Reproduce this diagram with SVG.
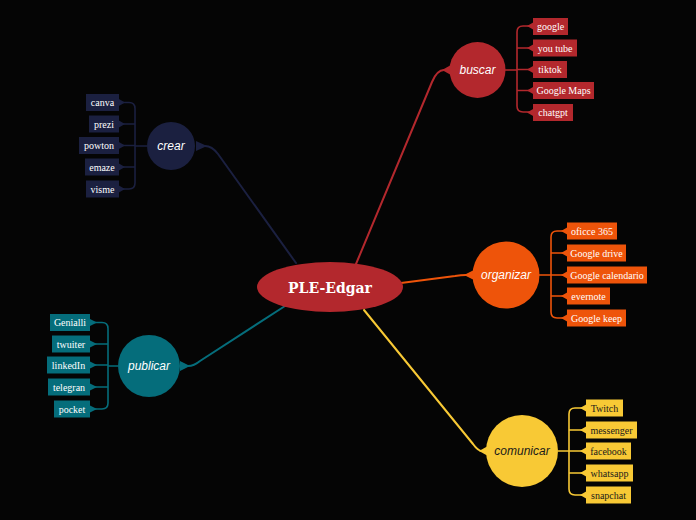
<svg xmlns="http://www.w3.org/2000/svg" width="696" height="520" viewBox="0 0 696 520">
<style>
.bg{fill:#050505}
.lbl{font-family:"Liberation Sans","DejaVu Sans",sans-serif;font-style:italic;font-size:12px;text-anchor:middle}
.leaf{font-family:"Liberation Serif","DejaVu Serif",serif;font-size:10px;text-anchor:middle}
.w{fill:#ffffff}
.d{fill:#1a1a1a}
.ln{fill:none;stroke-width:2;stroke-linecap:round;stroke-linejoin:round}
.br{fill:none;stroke-width:1.6;stroke-linejoin:round}
.red{fill:#B3282D}.redS{stroke:#B3282D}
.org{fill:#EE540A}.orgS{stroke:#EE540A}
.yel{fill:#F8C935}.yelS{stroke:#F8C935}
.nav{fill:#1B2040}.navS{stroke:#1B2040}
.tea{fill:#056D7B}.teaS{stroke:#056D7B}
</style>
<rect class="bg" x="0" y="0" width="696" height="520"/>

<g id="connectors">
  <!-- center to main nodes -->
  <path class="ln redS" d="M356,264 L432,82 Q437,70 444,70"/>
  <polygon class="red" points="442,70 451,65 451,75"/>
  <path class="ln navS" d="M296,263 L218,154 Q212,146 205,146"/>
  <polygon class="nav" points="207,146 196,141 196,151"/>
  <path class="ln orgS" d="M401,283 L455,276 Q461,275 466,275"/>
  <polygon class="org" points="464,275 474,270 474,280"/>
  <path class="ln yelS" d="M364,310 L473,444 Q478,451 482,451"/>
  <polygon class="yel" points="479,451 488,446 488,456"/>
  <path class="ln teaS" d="M285,306 L200,361 Q194,366 188,366"/>
  <polygon class="tea" points="190,366 180,361 180,371"/>

  <!-- buscar bracket -->
  <path class="br redS" d="M505,70 H517 M533,26 H523 Q517,26 517,32 V106 Q517,112 523,112 H533 M517,48 H533 M517,69.5 H533 M517,90.5 H533"/>
  <g class="red">
    <polygon points="527,26 534,22 534,30"/><polygon points="527,48 534,44 534,52"/><polygon points="527,69.5 534,65.5 534,73.5"/><polygon points="527,90.5 534,86.5 534,94.5"/><polygon points="527,112.5 534,108.5 534,116.5"/>
  </g>

  <!-- organizar bracket -->
  <path class="br orgS" d="M539,275 H551 M567,231 H557 Q551,231 551,237 V312 Q551,318 557,318 H567 M551,253 H567 M551,275 H567 M551,296 H567"/>
  <g class="org">
    <polygon points="561,231 568,227 568,235"/><polygon points="561,253 568,249 568,257"/><polygon points="561,275 568,271 568,279"/><polygon points="561,296 568,292 568,300"/><polygon points="561,318 568,314 568,322"/>
  </g>

  <!-- comunicar bracket -->
  <path class="br yelS" d="M558,451 H569 M586,408 H575 Q569,408 569,414 V489 Q569,495 575,495 H586 M569,430 H586 M569,451 H586 M569,473 H586"/>
  <g class="yel">
    <polygon points="580,408 587,404 587,412"/><polygon points="580,430 587,426 587,434"/><polygon points="580,451 587,447 587,455"/><polygon points="580,473 587,469 587,477"/><polygon points="580,495 587,491 587,499"/>
  </g>

  <!-- crear bracket -->
  <path class="br navS" d="M147,146 H135 M119,102.5 H129 Q135,102.5 135,108.5 V183 Q135,189 129,189 H119 M135,124 H119 M135,145.5 H119 M135,167 H119"/>
  <g class="nav">
    <polygon points="125,102.5 118,98.5 118,106.5"/><polygon points="125,124 118,120 118,128"/><polygon points="125,145.5 118,141.5 118,149.5"/><polygon points="125,167 118,163 118,171"/><polygon points="125,189 118,185 118,193"/>
  </g>

  <!-- publicar bracket -->
  <path class="br teaS" d="M118,366 H108 M90,322.5 H102 Q108,322.5 108,328.5 V403 Q108,409 102,409 H90 M108,344 H90 M108,365 H90 M108,387 H90"/>
  <g class="tea">
    <polygon points="97,322.5 89,318.5 89,326.5"/><polygon points="97,344 89,340 89,348"/><polygon points="97,365 89,361 89,369"/><polygon points="97,387 89,383 89,391"/><polygon points="97,409 89,405 89,413"/>
  </g>
</g>

<g id="center">
  <ellipse class="red" cx="330" cy="287" rx="73" ry="25"/>
  <text x="330" y="292.5" font-family="'DejaVu Serif',serif" font-weight="bold" font-size="14" text-anchor="middle" fill="#ffffff">PLE-Edgar</text>
</g>

<g id="buscar">
  <circle class="red" cx="477.5" cy="70" r="28"/>
  <text class="lbl w" x="477.5" y="74">buscar</text>
</g>
<g id="organizar">
  <circle class="org" cx="506" cy="275" r="33.5"/>
  <text class="lbl w" x="506" y="279">organizar</text>
</g>
<g id="comunicar">
  <circle class="yel" cx="522" cy="451" r="36"/>
  <text class="lbl d" x="522" y="455">comunicar</text>
</g>
<g id="crear">
  <circle class="nav" cx="171" cy="146" r="24"/>
  <text class="lbl w" x="171" y="150">crear</text>
</g>
<g id="publicar">
  <circle class="tea" cx="149" cy="366" r="31"/>
  <text class="lbl w" x="149" y="370">publicar</text>
</g>

<!-- buscar leaves -->
<g id="google"><rect class="red" x="533" y="18" width="35" height="17"/><text class="leaf w" x="550.5" y="30">google</text></g>
<g id="youtube"><rect class="red" x="533" y="39.5" width="44" height="17"/><text class="leaf w" x="555" y="51.5">you tube</text></g>
<g id="tiktok"><rect class="red" x="533" y="61" width="34" height="17"/><text class="leaf w" x="550" y="73">tiktok</text></g>
<g id="googlemaps"><rect class="red" x="533" y="82" width="61" height="17"/><text class="leaf w" x="563.5" y="94">Google Maps</text></g>
<g id="chatgpt"><rect class="red" x="533" y="104" width="40" height="17"/><text class="leaf w" x="553" y="116">chatgpt</text></g>

<!-- organizar leaves -->
<g id="oficce"><rect class="org" x="567" y="222.5" width="50" height="17"/><text class="leaf w" x="592" y="234.5">oficce 365</text></g>
<g id="gdrive"><rect class="org" x="567" y="244.5" width="59" height="17"/><text class="leaf w" x="596.5" y="256.5">Google drive</text></g>
<g id="gcal"><rect class="org" x="567" y="266.5" width="80" height="17"/><text class="leaf w" x="607" y="278.5">Google calendario</text></g>
<g id="evernote"><rect class="org" x="567" y="287.5" width="43" height="17"/><text class="leaf w" x="588.5" y="299.5">evernote</text></g>
<g id="gkeep"><rect class="org" x="567" y="309.5" width="59" height="17"/><text class="leaf w" x="596.5" y="321.5">Google keep</text></g>

<!-- comunicar leaves -->
<g id="twitch"><rect class="yel" x="586" y="399.5" width="37" height="17"/><text class="leaf d" x="604.5" y="411.5">Twitch</text></g>
<g id="messenger"><rect class="yel" x="586" y="421.5" width="51" height="17"/><text class="leaf d" x="611.5" y="433.5">messenger</text></g>
<g id="facebook"><rect class="yel" x="586" y="442.5" width="45" height="17"/><text class="leaf d" x="608.5" y="454.5">facebook</text></g>
<g id="whatsapp"><rect class="yel" x="586" y="464.5" width="47" height="17"/><text class="leaf d" x="609.5" y="476.5">whatsapp</text></g>
<g id="snapchat"><rect class="yel" x="586" y="486.5" width="45" height="17"/><text class="leaf d" x="608.5" y="498.5">snapchat</text></g>

<!-- crear leaves -->
<g id="canva"><rect class="nav" x="86" y="94" width="33" height="17"/><text class="leaf w" x="102.5" y="106">canva</text></g>
<g id="prezi"><rect class="nav" x="89" y="115.5" width="30" height="17"/><text class="leaf w" x="104" y="127.5">prezi</text></g>
<g id="powton"><rect class="nav" x="79" y="137" width="40" height="17"/><text class="leaf w" x="99" y="149">powton</text></g>
<g id="emaze"><rect class="nav" x="85" y="158.5" width="34" height="17"/><text class="leaf w" x="102" y="170.5">emaze</text></g>
<g id="visme"><rect class="nav" x="86" y="180.5" width="33" height="17"/><text class="leaf w" x="102.5" y="192.5">visme</text></g>

<!-- publicar leaves -->
<g id="genialli"><rect class="tea" x="50" y="314" width="40" height="17"/><text class="leaf w" x="70" y="326">Genialli</text></g>
<g id="twuiter"><rect class="tea" x="52" y="335.5" width="38" height="17"/><text class="leaf w" x="71" y="347.5">twuiter</text></g>
<g id="linkedin"><rect class="tea" x="47" y="356.5" width="43" height="17"/><text class="leaf w" x="68.5" y="368.5">linkedIn</text></g>
<g id="telegran"><rect class="tea" x="48" y="378.5" width="42" height="17"/><text class="leaf w" x="69" y="390.5">telegran</text></g>
<g id="pocket"><rect class="tea" x="54" y="400.5" width="36" height="17"/><text class="leaf w" x="72" y="412.5">pocket</text></g>
</svg>
